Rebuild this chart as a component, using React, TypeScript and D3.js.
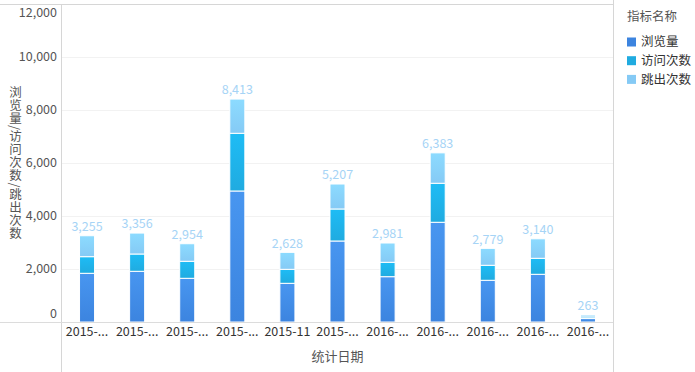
import React, { useEffect, useRef } from 'react';
import * as d3 from 'd3';

// tick labels as shown on the x axis (truncated in the source chart)
const tickLabels = [
  '2015-...', '2015-...', '2015-...', '2015-...', '2015-11', '2015-...',
  '2016-...', '2016-...', '2016-...', '2016-...', '2016-...',
];
const seriesNames = ['浏览量', '访问次数', '跳出次数'];
const pageViews = [1838, 1913, 1649, 4944, 1460, 3057, 1710, 3763, 1574, 1800, 130];
const visits = [627, 653, 642, 2177, 528, 1208, 543, 1472, 566, 604, 60];
const bounces = [790, 790, 663, 1292, 640, 942, 728, 1148, 639, 736, 73];
const yTicks = [0, 2000, 4000, 6000, 8000, 10000, 12000];

const colors = [
  ['#4896f0', '#3c84df'],
  ['#1ebcf5', '#20abe0'],
  ['#8cdbff', '#85caf5'],
];

const App = () => {
  const ref = useRef<SVGSVGElement>(null);

  useEffect(() => {
    const svg = d3.select(ref.current);
    svg.selectAll('*').remove();

    const height = 372;
    const left = 62;
    const right = 613;
    const top = 4;
    const bottom = 322;
    const font = '"Noto Sans CJK SC", "Noto Sans", sans-serif';

    const rows = tickLabels.map((_, i) => ({
      i,
      [seriesNames[0]]: pageViews[i],
      [seriesNames[1]]: visits[i],
      [seriesNames[2]]: bounces[i],
    }));
    const totals = rows.map((_, i) => pageViews[i] + visits[i] + bounces[i]);

    const x = d3.scaleBand<number>().domain(d3.range(tickLabels.length)).range([left, right]).paddingInner(0.7).paddingOuter(0.35);
    const y = d3.scaleLinear().domain([0, 12000]).range([bottom, top]);

    const defs = svg.append('defs');
    colors.forEach((c, k) => {
      const g = defs.append('linearGradient').attr('id', `grad${k}`).attr('x1', 0).attr('y1', 0).attr('x2', 0).attr('y2', 1);
      g.append('stop').attr('offset', '0%').attr('stop-color', c[0]);
      g.append('stop').attr('offset', '100%').attr('stop-color', c[1]);
    });

    // frame
    svg.append('line').attr('x1', 0).attr('x2', right).attr('y1', top + 0.5).attr('y2', top + 0.5).attr('stroke', '#d6d6d6');
    svg.append('line').attr('x1', left - 0.5).attr('x2', left - 0.5).attr('y1', top).attr('y2', height).attr('stroke', '#d6d6d6');
    svg.append('line').attr('x1', right + 0.5).attr('x2', right + 0.5).attr('y1', 0).attr('y2', height).attr('stroke', '#d6d6d6');

    // grid
    svg.append('g')
      .selectAll('line')
      .data(yTicks.filter((t) => t > 0 && t < 12000))
      .enter()
      .append('line')
      .attr('x1', left)
      .attr('x2', right)
      .attr('y1', (d) => Math.round(y(d)) + 0.5)
      .attr('y2', (d) => Math.round(y(d)) + 0.5)
      .attr('stroke', '#f2f2f2');

    // y tick labels
    svg.append('g')
      .selectAll('text')
      .data(yTicks)
      .enter()
      .append('text')
      .attr('x', 57)
      .attr('y', (d) => (d === 12000 ? 13 : d === 0 ? 314 : y(d)))
      .attr('dy', '0.35em')
      .attr('text-anchor', 'end')
      .style('font-family', font)
      .style('font-size', '12.5px')
      .style('fill', '#555')
      .text((d) => d3.format(',')(d));

    // stacked bars
    const stack = d3.stack<any>().keys(seriesNames);
    const layers = stack(rows);
    svg.append('g')
      .selectAll('g')
      .data(layers)
      .enter()
      .append('g')
      .attr('fill', (_, k) => `url(#grad${k})`)
      .selectAll('rect')
      .data((d) => d)
      .enter()
      .append('rect')
      .attr('x', (d) => x(d.data.i) as number)
      .attr('width', x.bandwidth())
      .attr('y', (d) => y(d[1]))
      .attr('height', (d) => Math.max(0, y(d[0]) - y(d[1])))
      .attr('stroke', '#fff')
      .attr('stroke-width', 1);

    // total labels
    svg.append('g')
      .selectAll('text')
      .data(totals)
      .enter()
      .append('text')
      .attr('x', (_, i) => (x(i) as number) + x.bandwidth() / 2)
      .attr('y', (d) => y(d) - 9)
      .attr('dy', '0.35em')
      .attr('text-anchor', 'middle')
      .style('font-family', font)
      .style('font-size', '12.5px')
      .style('fill', '#a6d4f6')
      .text((d) => d3.format(',')(d));

    // baseline
    svg.append('line').attr('x1', 0).attr('x2', right).attr('y1', bottom + 0.5).attr('y2', bottom + 0.5).attr('stroke', '#dcdcdc');

    // x tick labels
    svg.append('g')
      .selectAll('text')
      .data(tickLabels)
      .enter()
      .append('text')
      .attr('x', (_, i) => (x(i) as number) + x.bandwidth() / 2)
      .attr('y', 332)
      .attr('dy', '0.35em')
      .attr('text-anchor', 'middle')
      .style('font-family', font)
      .style('font-size', '12.5px')
      .style('fill', '#333')
      .text((d) => d);

    // axis titles
    svg.append('text')
      .attr('x', (left + right) / 2)
      .attr('y', 356)
      .attr('dy', '0.35em')
      .attr('text-anchor', 'middle')
      .style('font-family', font)
      .style('font-size', '13px')
      .style('fill', '#555')
      .text('统计日期');

    svg.append('text')
      .attr('x', 15.5)
      .attr('y', (top + bottom) / 2)
      .attr('text-anchor', 'middle')
      .style('writing-mode', 'vertical-rl')
      .style('font-family', font)
      .style('font-size', '12.5px')
      .style('letter-spacing', '0.5px')
      .style('fill', '#555')
      .text('浏览量/访问次数/跳出次数');

    // legend
    const legend = svg.append('g').attr('transform', 'translate(627,0)');
    legend.append('text')
      .attr('x', 0)
      .attr('y', 17)
      .attr('dy', '0.35em')
      .style('font-family', font)
      .style('font-size', '12.5px')
      .style('fill', '#555')
      .text('指标名称');
    const items = legend.selectAll('g.item')
      .data(seriesNames)
      .enter()
      .append('g')
      .attr('transform', (_, k) => `translate(0,${42 + k * 18.7})`);
    items.append('rect')
      .attr('x', 0)
      .attr('y', -4.5)
      .attr('width', 9)
      .attr('height', 9)
      .attr('fill', (_, k) => colors[k][1]);
    items.append('text')
      .attr('x', 14)
      .attr('dy', '0.35em')
      .style('font-family', font)
      .style('font-size', '12.5px')
      .style('fill', '#333')
      .text((d) => d);
  }, []);

  return (
    <svg
      ref={ref}
      width={695}
      height={372}
      style={{ display: 'block', position: 'absolute', left: 0, top: 0, background: '#fff' }}
    />
  );
};

export default App;
